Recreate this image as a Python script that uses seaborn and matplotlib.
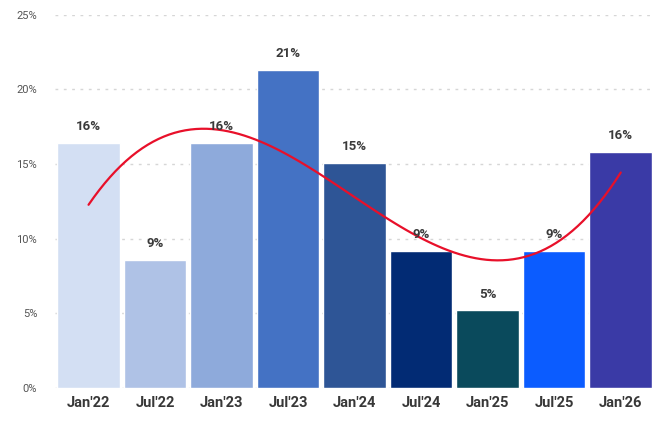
import matplotlib
matplotlib.use("Agg")
import matplotlib.pyplot as plt
import seaborn as sns
import numpy as np
import pandas as pd

periods = ["Jan'22", "Jul'22", "Jan'23", "Jul'23", "Jan'24", "Jul'24", "Jan'25", "Jul'25", "Jan'26"]
shares = [16.4, 8.6, 16.4, 21.3, 15.1, 9.2, 5.2, 9.2, 15.8]
bar_colors = ["#d3dff3", "#afc2e6", "#8eaadb", "#4472c4", "#2e5596", "#022b74",
              "#0a4a5c", "#0b5cff", "#3a3aa6"]
y_ticks = [0, 5, 10, 15, 20, 25]

df = pd.DataFrame({"period": periods, "share": shares, "pos": np.arange(len(periods))})

sns.set_theme(style="white")
plt.rcParams["font.family"] = ["Roboto", "DejaVu Sans"]

fig = plt.figure(figsize=(6.66, 4.24), dpi=100)
ax = fig.add_axes([0.083, 0.085, 0.899, 0.88])

sns.barplot(data=df, x="period", y="share", hue="period", palette=bar_colors,
            legend=False, width=0.94, saturation=1, ax=ax, zorder=2)

# smoothed trend across the periods
sns.regplot(data=df, x="pos", y="share", order=3, ci=None, scatter=False,
            line_kws={"color": "#e8102a", "lw": 1.6, "zorder": 4}, ax=ax)

for i, v in enumerate(shares):
    ax.annotate(f"{v:.0f}%", (i, v), xytext=(0, 7), textcoords="offset points",
                ha="center", va="bottom", fontsize=9.5, fontweight="bold",
                color="#3a3a3a", zorder=5)

ax.set_xlim(-0.5, len(periods) - 0.5)
ax.set_ylim(0, 25)
ax.set_yticks(y_ticks)
ax.set_yticklabels([f"{t}%" for t in y_ticks], fontsize=8, color="#555555")
ax.set_xticks(range(len(periods)))
ax.set_xticklabels(periods, fontsize=10.5, color="#383838", fontweight="bold")
ax.tick_params(axis="y", length=0, pad=13)
ax.tick_params(axis="x", length=0, pad=6)
ax.yaxis.grid(True, linestyle=(0, (2, 4)), color="#d6d6d6", lw=1, zorder=0)
ax.set_axisbelow(True)
for s in ax.spines.values():
    s.set_visible(False)
ax.set_xlabel("")
ax.set_ylabel("")

fig.savefig("out.png", dpi=100)
